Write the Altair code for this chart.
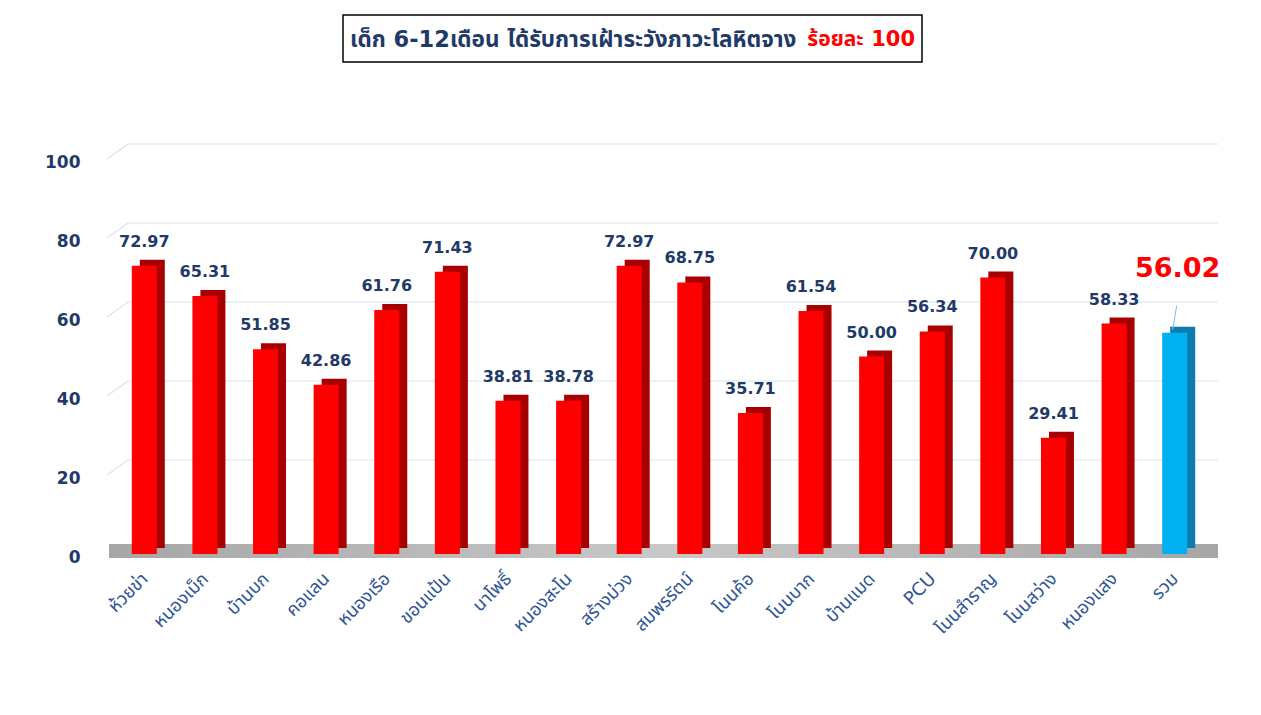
import altair as alt
import pandas as pd

categories = ["ห้วยข่า", "หนองเม็ก", "บ้านบก", "คอแลน", "หนองเรือ", "ขอนแป้น", "นาโพธิ์",
              "หนองสะโน", "สร้างม่วง", "สมพรรัตน์", "โนนค้อ", "โนนบาก", "บ้านแมด", "PCU",
              "โนนสำราญ", "โนนสว่าง", "หนองแสง", "รวม"]
values = [72.97, 65.31, 51.85, 42.86, 61.76, 71.43, 38.81, 38.78, 72.97, 68.75,
          35.71, 61.54, 50.00, 56.34, 70.00, 29.41, 58.33, 56.02]
y_ticks = [0, 20, 40, 60, 80, 100]
grid_values = [20, 40, 60, 80, 100]
title_main = "เด็ก 6-12เดือน ได้รับการเฝ้าระวังภาวะโลหิตจาง"
title_red = "ร้อยละ 100"
total_name = "รวม"

W, H = 1091, 395
FONT = "Tahoma, 'DejaVu Sans', 'Noto Sans Thai', sans-serif"
NAVY = "#1F3A68"

df = pd.DataFrame({"cat": categories, "v": values})
gdf = pd.DataFrame({"v": grid_values})

xenc = alt.X("cat:N", sort=None, scale=alt.Scale(paddingInner=0, paddingOuter=0),
             axis=alt.Axis(title=None, domain=False, ticks=False, labelAngle=-45,
                           labelAlign="right", labelBaseline="middle", labelPadding=22,
                           labelFontSize=18, labelColor="#2F5597", labelFont=FONT))
yscale = alt.Scale(domain=[0, 100], nice=False)
yenc = alt.Y("v:Q", scale=yscale,
             axis=alt.Axis(title=None, values=y_ticks, domain=False, ticks=False, grid=False,
                           labelPadding=35, labelFontSize=17, labelFontWeight="bold",
                           labelColor=NAVY, labelFont=FONT, labelOffset=3))

is_total = alt.datum.cat == total_name

floor = alt.Chart(alt.Data(values=[{}])).mark_rect(
    color=alt.LinearGradient(gradient="linear", x1=0, x2=1, y1=0, y2=0,
                             stops=[alt.GradientStop(color="#A6A6A6", offset=0),
                                    alt.GradientStop(color="#C8C8C8", offset=0.5),
                                    alt.GradientStop(color="#A6A6A6", offset=1)])
).encode(x=alt.value(-6), x2=alt.value(W + 12), y=alt.value(H - 10), y2=alt.value(H + 4))

grid_back = alt.Chart(gdf).mark_rule(color="#D9E3F1", strokeWidth=1.2, yOffset=-15).encode(
    y=alt.Y("v:Q", scale=yscale), x=alt.value(13), x2=alt.value(W + 12))
grid_diag = alt.Chart(gdf).mark_rule(color="#D9E3F1", strokeWidth=1.2, y2Offset=-15).encode(
    y=alt.Y("v:Q", scale=yscale), y2="v:Q", x=alt.value(-8), x2=alt.value(13))

back = alt.Chart(df).mark_bar(width=25, xOffset=7, yOffset=-6).encode(
    x=xenc, y=yenc,
    color=alt.condition(is_total, alt.value("#0A7DB0"), alt.value("#A80000")))
front = alt.Chart(df).mark_bar(width=25, xOffset=-1).encode(
    x=alt.X("cat:N", sort=None), y=alt.Y("v:Q", scale=yscale),
    color=alt.condition(is_total, alt.value("#00B0F0"), alt.value("#FF0000")))

labels = alt.Chart(df).transform_filter(alt.datum.cat != total_name).mark_text(
    dy=-24, dx=-1, fontSize=16, fontWeight="bold", color=NAVY, font=FONT
).encode(x=alt.X("cat:N", sort=None), y=alt.Y("v:Q", scale=yscale),
         text=alt.Text("v:Q", format=".2f"))

total_label = alt.Chart(df).transform_filter(is_total).mark_text(
    dy=-64, dx=2, fontSize=27, fontWeight="bold", color="#FF0000", font=FONT
).encode(x=alt.X("cat:N", sort=None), y=alt.Y("v:Q", scale=yscale),
         text=alt.Text("v:Q", format=".2f"))
leader = alt.Chart(df).transform_filter(is_total).mark_rule(
    color="#8DB4E2", strokeWidth=1, yOffset=-3, y2Offset=-27, xOffset=-3, x2Offset=1
).encode(x=alt.X("cat:N", sort=None, bandPosition=0.5),
         x2=alt.X2("cat:N", bandPosition=0.5),
         y=alt.Y("v:Q", scale=yscale), y2="v:Q")

title_box = alt.Chart(alt.Data(values=[{}])).mark_rect(
    fill="white", stroke="black", strokeWidth=1.5
).encode(x=alt.value(228), x2=alt.value(807), y=alt.value(-144), y2=alt.value(-97))
title_blue = alt.Chart(alt.Data(values=[{"t": title_main}])).mark_text(
    align="left", baseline="middle", fontSize=22.5, fontWeight="bold", color=NAVY, font=FONT
).encode(text="t:N", x=alt.value(235), y=alt.value(-119))
title_r = alt.Chart(alt.Data(values=[{"t": title_red}])).mark_text(
    align="right", baseline="middle", fontSize=21, fontWeight="bold", color="#FF0000", font=FONT
).encode(text="t:N", x=alt.value(800), y=alt.value(-119))

chart = alt.layer(
    floor, grid_back, grid_diag, back, front, labels, leader, total_label,
    title_box, title_blue, title_r
).properties(
    width=W, height=H,
    autosize=alt.AutoSizeParams(type="none"),
    padding={"left": 107, "top": 151, "right": 40, "bottom": 140},
).configure(background="white", view=alt.ViewConfig(stroke=None))

chart.save("out.html", embed_options={"renderer": "svg", "actions": False})
